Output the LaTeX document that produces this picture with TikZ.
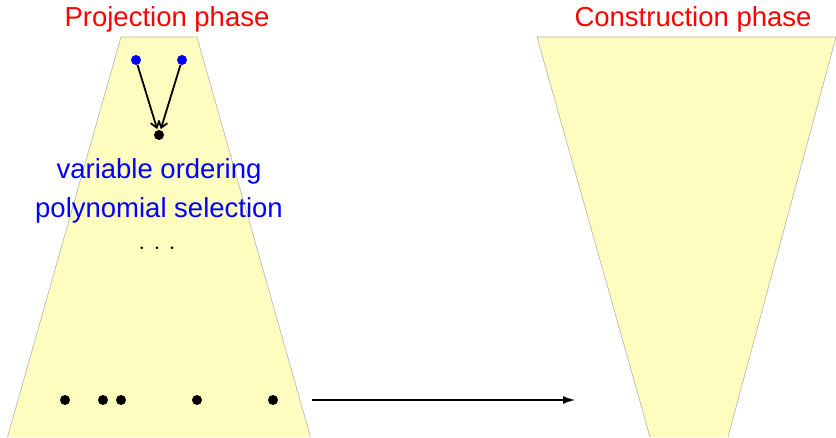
\documentclass[tikz,border=0pt]{standalone}
\usepackage{fontspec}
\setmainfont{Liberation Sans}
\usetikzlibrary{arrows.meta}
\begin{document}
\begin{tikzpicture}[x=1pt,y=1pt,
  title/.style={text=red, font=\fontsize{27.5}{32}\selectfont},
  label/.style={text=blue, font=\fontsize{27.5}{32}\selectfont},
  dot/.style={circle, fill=#1, inner sep=0pt, minimum size=10pt},
  link/.style={line width=1.8pt, -{Straight Barb[length=6pt,width=9pt]}, shorten >=1pt},
  flow/.style={line width=1.3pt, -{Latex[length=12pt,width=8pt]}}]
\useasboundingbox (0,0) rectangle (836,437);
% projection phase: widening trapezoid
\fill[fill=yellow!25] (121,400) -- (197,400) -- (310.5,0) -- (7.5,0) -- cycle;
\draw[draw=black!30, line width=0.6pt] (7.5,0) -- (121,400) -- (197,400) -- (310.5,0);
% construction phase: narrowing trapezoid
\fill[fill=yellow!25] (537,400) -- (836,400) -- (728,0) -- (650,0) -- cycle;
\draw[draw=black!30, line width=0.6pt] (650,0) -- (537,400) -- (836,400) -- (728,0);
\node[title] (tp) at (167,418) {Projection phase};
\node[title] (tc) at (693,418) {Construction phase};
% projection of two variables onto one
\node[dot=blue] (v1) at (136,377) {};
\node[dot=blue] (v2) at (182,377) {};
\node[dot=black] (w) at (159,302) {};
\draw[link] (v1) -- (w);
\draw[link] (v2) -- (w);
\node[label] (l1) at (159,266) {variable ordering};
\node[label] (l2) at (159,227) {polynomial selection};
\node[inner sep=0pt] (dd) at (157,188) {\fontsize{27.5}{32}\selectfont$\cdotp\,\cdotp\,\cdotp$};
% one-dimensional cells
\node[dot=black] (p1) at (65,37) {};
\node[dot=black] (p2) at (103,37) {};
\node[dot=black] (p3) at (121,37) {};
\node[dot=black] (p4) at (197,37) {};
\node[dot=black] (p5) at (273,37) {};
\coordinate (a0) at (312,37);
\coordinate (a1) at (575,37);
\draw[flow] (a0) -- (a1);
\end{tikzpicture}
\end{document}
